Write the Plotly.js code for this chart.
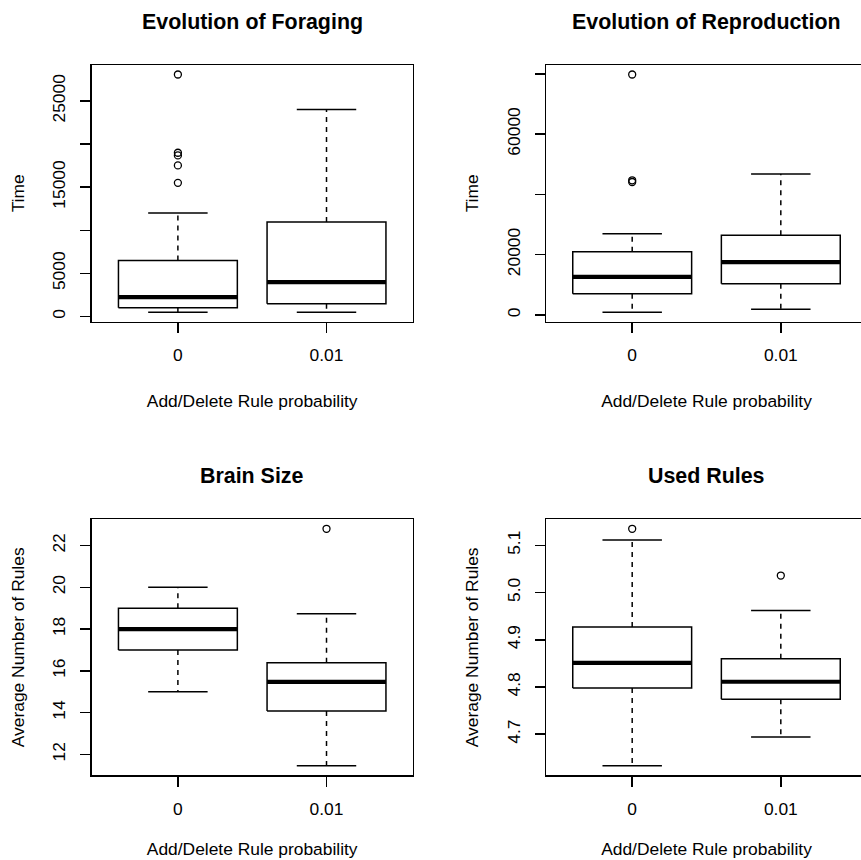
<!DOCTYPE html>
<html>
<head>
<meta charset="utf-8">
<script src="https://cdn.plot.ly/plotly-3.0.1.min.js"></script>
<style>
  html, body { margin: 0; padding: 0; background: #ffffff; overflow: hidden; }
  #chart { width: 909px; height: 909px; margin-top: -24px; }
</style>
</head>
<body>
<div id="chart"></div>
<script>
// Groups: add/delete rule probability
const groupLabels = ['0', '0.01'];
const groupPos = [1, 2];

// Evolution of Foraging (time)
const foragingLower  = [500, 500];
const foragingQ1     = [1010, 1480];
const foragingMedian = [2240, 3990];
const foragingQ3     = [6480, 10970];
const foragingUpper  = [12010, 23990];
const foragingOut0   = [15500, 17520, 18680, 18990, 28060];
const foragingOut1   = [];

// Evolution of Reproduction (time)
const reproLower  = [900, 1890];
const reproQ1     = [6980, 10300];
const reproMedian = [12630, 17510];
const reproQ3     = [20940, 26390];
const reproUpper  = [26920, 46760];
const reproOut0   = [44100, 44660, 79760];
const reproOut1   = [];

// Brain Size (average number of rules)
const brainLower  = [15.0, 11.45];
const brainQ1     = [17.0, 14.08];
const brainMedian = [18.0, 15.47];
const brainQ3     = [19.0, 16.39];
const brainUpper  = [20.0, 18.73];
const brainOut0   = [];
const brainOut1   = [22.8];

// Used Rules (average number of rules)
const usedLower  = [4.633, 4.694];
const usedQ1     = [4.798, 4.774];
const usedMedian = [4.851, 4.811];
const usedQ3     = [4.927, 4.860];
const usedUpper  = [5.111, 4.962];
const usedOut0   = [5.135];
const usedOut1   = [5.036];

// Tick marks per panel
const foragingTicks = [0, 5000, 10000, 15000, 20000, 25000];
const foragingTickText = ['0', '5000', '', '15000', '', '25000'];
const reproTicks = [0, 20000, 40000, 60000, 80000];
const reproTickText = ['0', '20000', '', '60000', ''];
const brainTicks = [12, 14, 16, 18, 20, 22];
const brainTickText = ['12', '14', '16', '18', '20', '22'];
const usedTicks = [4.7, 4.8, 4.9, 5.0, 5.1];
const usedTickText = ['4.7', '4.8', '4.9', '5.0', '5.1'];

const FONT = 'Liberation Sans, Arial, Helvetica, sans-serif';
const INK = '#000000';
const LW = 1.5;
const HALF_BOX = 0.4;
const HALF_CAP = 0.2;

function boxTraces(xa, ya, lower, q1, med, q3, upper, outliers) {
  const bx = [], by = [], wx = [], wy = [], cx = [], cy = [], mx = [], my = [], ox = [], oy = [];
  groupPos.forEach((g, i) => {
    bx.push(g - HALF_BOX, g + HALF_BOX, g + HALF_BOX, g - HALF_BOX, g - HALF_BOX, null);
    by.push(q1[i], q1[i], q3[i], q3[i], q1[i], null);
    wx.push(g, g, null, g, g, null);
    wy.push(q1[i], lower[i], null, q3[i], upper[i], null);
    cx.push(g - HALF_CAP, g + HALF_CAP, null, g - HALF_CAP, g + HALF_CAP, null);
    cy.push(lower[i], lower[i], null, upper[i], upper[i], null);
    mx.push(g - HALF_BOX, g + HALF_BOX, null);
    my.push(med[i], med[i], null);
    outliers[i].forEach(v => { ox.push(g); oy.push(v); });
  });
  const common = { xaxis: xa, yaxis: ya, type: 'scatter', hoverinfo: 'skip', showlegend: false };
  return [
    Object.assign({ x: wx, y: wy, mode: 'lines', line: { color: INK, width: LW, dash: '5px,5px' } }, common),
    Object.assign({ x: cx, y: cy, mode: 'lines', line: { color: INK, width: LW } }, common),
    Object.assign({ x: bx, y: by, mode: 'lines', line: { color: INK, width: LW } }, common),
    Object.assign({ x: mx, y: my, mode: 'lines', line: { color: INK, width: 4.2 } }, common),
    Object.assign({ x: ox, y: oy, mode: 'markers',
      marker: { symbol: 'circle-open', size: 7, color: INK, line: { width: 1.3, color: INK } } }, common)
  ];
}

function paddedRange(arrays) {
  const vals = [].concat(...arrays);
  const lo = Math.min(...vals), hi = Math.max(...vals);
  const pad = (hi - lo) * 0.04;
  return [lo - pad, hi + pad];
}

const data = [].concat(
  boxTraces('x', 'y', foragingLower, foragingQ1, foragingMedian, foragingQ3, foragingUpper, [foragingOut0, foragingOut1]),
  boxTraces('x2', 'y2', reproLower, reproQ1, reproMedian, reproQ3, reproUpper, [reproOut0, reproOut1]),
  boxTraces('x3', 'y3', brainLower, brainQ1, brainMedian, brainQ3, brainUpper, [brainOut0, brainOut1]),
  boxTraces('x4', 'y4', usedLower, usedQ1, usedMedian, usedQ3, usedUpper, [usedOut0, usedOut1])
);

// Square figure; the two plot rows sit 454 px apart
const W = 909, H = 909;
const colL = [91.7 / W, 412.7 / W];
const colR = [546 / W, 867 / W];
const rowT = [(H - 345.7) / H, (H - 89) / H];
const rowB = [(H - 799.3) / H, (H - 543.3) / H];

function xAxis(domain, anchor, titleStandoff) {
  return {
    domain: domain, anchor: anchor, range: [0.42, 2.58],
    tickmode: 'array', tickvals: groupPos, ticktext: groupLabels,
    ticks: 'outside', ticklen: 10, tickwidth: LW, tickcolor: INK,
    ticklabelstandoff: 7,
    showline: true, mirror: true, linewidth: LW, linecolor: INK,
    showgrid: false, zeroline: false, fixedrange: true,
    tickfont: { family: FONT, size: 17.4, color: INK },
    title: { text: 'Add/Delete Rule probability', standoff: titleStandoff, font: { family: FONT, size: 17.4, color: INK } }
  };
}

function yAxis(domain, anchor, range, tickvals, ticktext, title) {
  return {
    domain: domain, anchor: anchor, range: range,
    tickmode: 'array', tickvals: tickvals, ticktext: ticktext, tickangle: -90,
    ticks: 'outside', ticklen: 10, tickwidth: LW, tickcolor: INK,
    ticklabelstandoff: 8,
    showline: true, mirror: true, linewidth: LW, linecolor: INK,
    showgrid: false, zeroline: false, fixedrange: true,
    tickfont: { family: FONT, size: 17.4, color: INK },
    title: { text: title, standoff: 20, font: { family: FONT, size: 17.4, color: INK } }
  };
}

function panelTitle(xref, yref, text) {
  return {
    xref: xref + ' domain', yref: yref + ' domain', x: 0.5, y: 1.168,
    xanchor: 'center', yanchor: 'middle', showarrow: false, text: '<b>' + text + '</b>',
    font: { family: FONT, size: 21.4, color: INK }
  };
}

const layout = {
  width: W, height: H,
  margin: { l: 0, r: 0, t: 0, b: 0 },
  paper_bgcolor: '#ffffff', plot_bgcolor: '#ffffff',
  showlegend: false,
  xaxis:  xAxis(colL, 'y', 30),
  yaxis:  yAxis(rowT, 'x', paddedRange([foragingLower, foragingUpper, foragingOut0, foragingOut1]), foragingTicks, foragingTickText, 'Time'),
  xaxis2: xAxis(colR, 'y2', 30),
  yaxis2: yAxis(rowT, 'x2', paddedRange([reproLower, reproUpper, reproOut0, reproOut1]), reproTicks, reproTickText, 'Time'),
  xaxis3: xAxis(colL, 'y3', 25),
  yaxis3: yAxis(rowB, 'x3', paddedRange([brainLower, brainUpper, brainOut0, brainOut1]), brainTicks, brainTickText, 'Average Number of Rules'),
  xaxis4: xAxis(colR, 'y4', 25),
  yaxis4: yAxis(rowB, 'x4', paddedRange([usedLower, usedUpper, usedOut0, usedOut1]), usedTicks, usedTickText, 'Average Number of Rules'),
  annotations: [
    panelTitle('x', 'y', 'Evolution of Foraging'),
    panelTitle('x2', 'y2', 'Evolution of Reproduction'),
    panelTitle('x3', 'y3', 'Brain Size'),
    panelTitle('x4', 'y4', 'Used Rules')
  ]
};

Plotly.newPlot('chart', data, layout, { displayModeBar: false, staticPlot: true });
</script>
</body>
</html>
